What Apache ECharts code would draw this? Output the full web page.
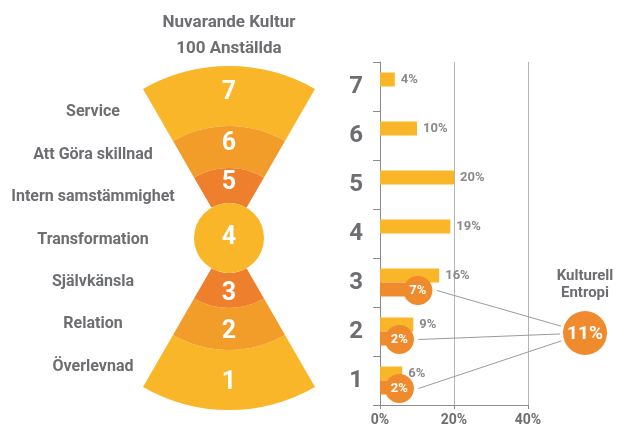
<!DOCTYPE html>
<html>
<head>
<meta charset="utf-8">
<script src="https://cdn.jsdelivr.net/npm/echarts@6/dist/echarts.min.js"></script>
<style>
  html, body { margin: 0; padding: 0; background: #fff; }
  #chart { width: 617px; height: 428px; }
</style>
</head>
<body>
<div id="chart"></div>
<script>
// levels, bottom to top
var levels = ['1', '2', '3', '4', '5', '6', '7'];
var levelNames = ['Överlevnad', 'Relation', 'Självkänsla', 'Transformation',
  'Intern samstämmighet', 'Att Göra skillnad', 'Service'];
var valueShare = [6, 9, 16, 19, 20, 10, 4];        // % of values per level
var entropyShare = [2, 2, 7, null, null, null, null]; // % potentially limiting
var titleLines = ['Nuvarande Kultur', '100 Anställda'];
var entropyTitle = ['Kulturell', 'Entropi'];

var F = 'Roboto, "DejaVu Sans Condensed", sans-serif';
var GRAY = '#6d6e71';
var YELLOW = '#f9b628', MID = '#f29c2a', DARK = '#ee7f2c', ENT = '#ef8a2d';
var levelColor = { '1': YELLOW, '2': MID, '3': DARK, '4': YELLOW, '5': DARK, '6': MID, '7': YELLOW };

var HUB = [229, 238];   // hourglass centre
var BIG = [585, 333];   // entropy total circle
var BIG_R = 22;

var entropyTotal = entropyShare.reduce(function (s, v) { return s + (v || 0); }, 0);

var chart = echarts.init(document.getElementById('chart'));

// one pie per ring pair: top sector, gap, bottom sector, gap
function ring(top, bottom, r0, r1) {
  var filler = { name: '', value: 2, itemStyle: { color: 'transparent' }, label: { show: false } };
  return {
    type: 'pie',
    center: HUB,
    radius: [r0, r1],
    startAngle: 120,
    clockwise: true,
    silent: true,
    avoidLabelOverlap: false,
    itemStyle: { borderWidth: 0 },
    label: { show: true, position: 'inside', formatter: '{b}', color: '#fff',
      fontFamily: F, fontWeight: 'bold', fontSize: 25 },
    labelLine: { show: false },
    emphasis: { disabled: true },
    data: [
      { name: top, value: 1, itemStyle: { color: levelColor[top] } },
      filler,
      { name: bottom, value: 1, itemStyle: { color: levelColor[bottom] } },
      filler
    ]
  };
}

var entropyPoints = [];
entropyShare.forEach(function (v, i) {
  if (v != null) entropyPoints.push([v, i]);
});

var option = {
  animation: false,
  grid: [
    { left: 175, top: 91, width: 10, height: 297 },
    { left: 380, right: 89, top: 62, bottom: 23 }
  ],
  xAxis: [
    { gridIndex: 0, type: 'value', show: false },
    {
      gridIndex: 1, type: 'value', min: 0, max: 40, interval: 20,
      axisLine: { show: true, lineStyle: { color: '#8c8c8c' } },
      axisTick: { show: true, length: 4, lineStyle: { color: '#8c8c8c' } },
      splitLine: { show: true, lineStyle: { color: '#b5b5b5' } },
      axisLabel: { formatter: '{value}%', color: GRAY, fontFamily: F, fontWeight: 'bold',
        fontSize: 14, margin: 8 }
    }
  ],
  yAxis: [
    {
      gridIndex: 0, type: 'category', data: levelNames,
      axisLine: { show: false }, axisTick: { show: false }, splitLine: { show: false },
      axisLabel: { align: 'center', margin: 82, color: GRAY, fontFamily: F,
        fontWeight: 'bold', fontSize: 16 }
    },
    {
      gridIndex: 1, type: 'category', data: levels,
      axisLine: { show: true, lineStyle: { color: '#8c8c8c' } },
      axisTick: { show: true, length: 7, lineStyle: { color: '#8c8c8c' } },
      axisLabel: { color: GRAY, fontFamily: F, fontWeight: 'bold', fontSize: 24, margin: 17 }
    }
  ],
  series: [
    ring('7', '1', 112, 172),
    ring('6', '2', 70, 112),
    ring('5', '3', 35, 70),
    {
      type: 'pie', center: HUB, radius: [0, 35], silent: true,
      itemStyle: { color: levelColor['4'] },
      label: { show: true, position: 'center', formatter: '{b}', color: '#fff',
        fontFamily: F, fontWeight: 'bold', fontSize: 25 },
      labelLine: { show: false }, emphasis: { disabled: true },
      data: [{ name: '4', value: 1 }]
    },
    {
      type: 'bar', xAxisIndex: 1, yAxisIndex: 1,
      data: valueShare, barWidth: 14, barGap: '0%',
      itemStyle: { color: YELLOW },
      label: { show: true, position: 'right', distance: 6, formatter: '{c}%',
        color: '#8a8a8a', fontFamily: F, fontWeight: 'bold', fontSize: 13 },
      silent: true
    },
    {
      type: 'bar', xAxisIndex: 1, yAxisIndex: 1,
      data: entropyShare, barWidth: 14, barGap: '0%',
      itemStyle: { color: ENT },
      silent: true
    },
    {
      type: 'custom', xAxisIndex: 1, yAxisIndex: 1, silent: true, z: 1,
      data: entropyPoints,
      renderItem: function (params, api) {
        var p = api.coord([api.value(0), api.value(1)]);
        var sx = p[0] + 12 + 19, sy = p[1] + 8;
        var dx = BIG[0] - sx, dy = BIG[1] - sy;
        var d = Math.sqrt(dx * dx + dy * dy);
        var ex = BIG[0] - dx / d * (BIG_R + 3), ey = BIG[1] - dy / d * (BIG_R + 3);
        return { type: 'line', shape: { x1: sx, y1: sy, x2: ex, y2: ey },
          style: { stroke: '#9a9a9a', lineWidth: 1 } };
      }
    },
    {
      type: 'scatter', xAxisIndex: 1, yAxisIndex: 1, silent: true, z: 5,
      data: entropyPoints, symbolSize: 29, symbolOffset: [12, 8],
      itemStyle: { color: ENT, opacity: 1 },
      label: { show: true, position: 'inside', color: '#fff', fontFamily: F,
        fontWeight: 'bold', fontSize: 13,
        formatter: function (p) { return p.value[0] + '%'; } }
    }
  ],
  graphic: [
    {
      type: 'text', x: HUB[0], y: 10, z: 100,
      style: { text: titleLines.join('\n'), fill: GRAY, font: 'bold 17px ' + F,
        lineHeight: 26, align: 'center' }
    },
    {
      type: 'text', x: BIG[0], y: 268, z: 100,
      style: { text: entropyTitle.join('\n'), fill: GRAY, font: 'bold 15px ' + F,
        lineHeight: 17, align: 'center' }
    },
    {
      type: 'circle', z: 100, shape: { cx: BIG[0], cy: BIG[1], r: BIG_R },
      style: { fill: ENT }
    },
    {
      type: 'text', x: BIG[0], y: BIG[1] + 1, z: 101,
      style: { text: entropyTotal + '%', fill: '#fff', font: 'bold 19px ' + F,
        align: 'center', verticalAlign: 'middle' }
    }
  ]
};

chart.setOption(option);
</script>
</body>
</html>
